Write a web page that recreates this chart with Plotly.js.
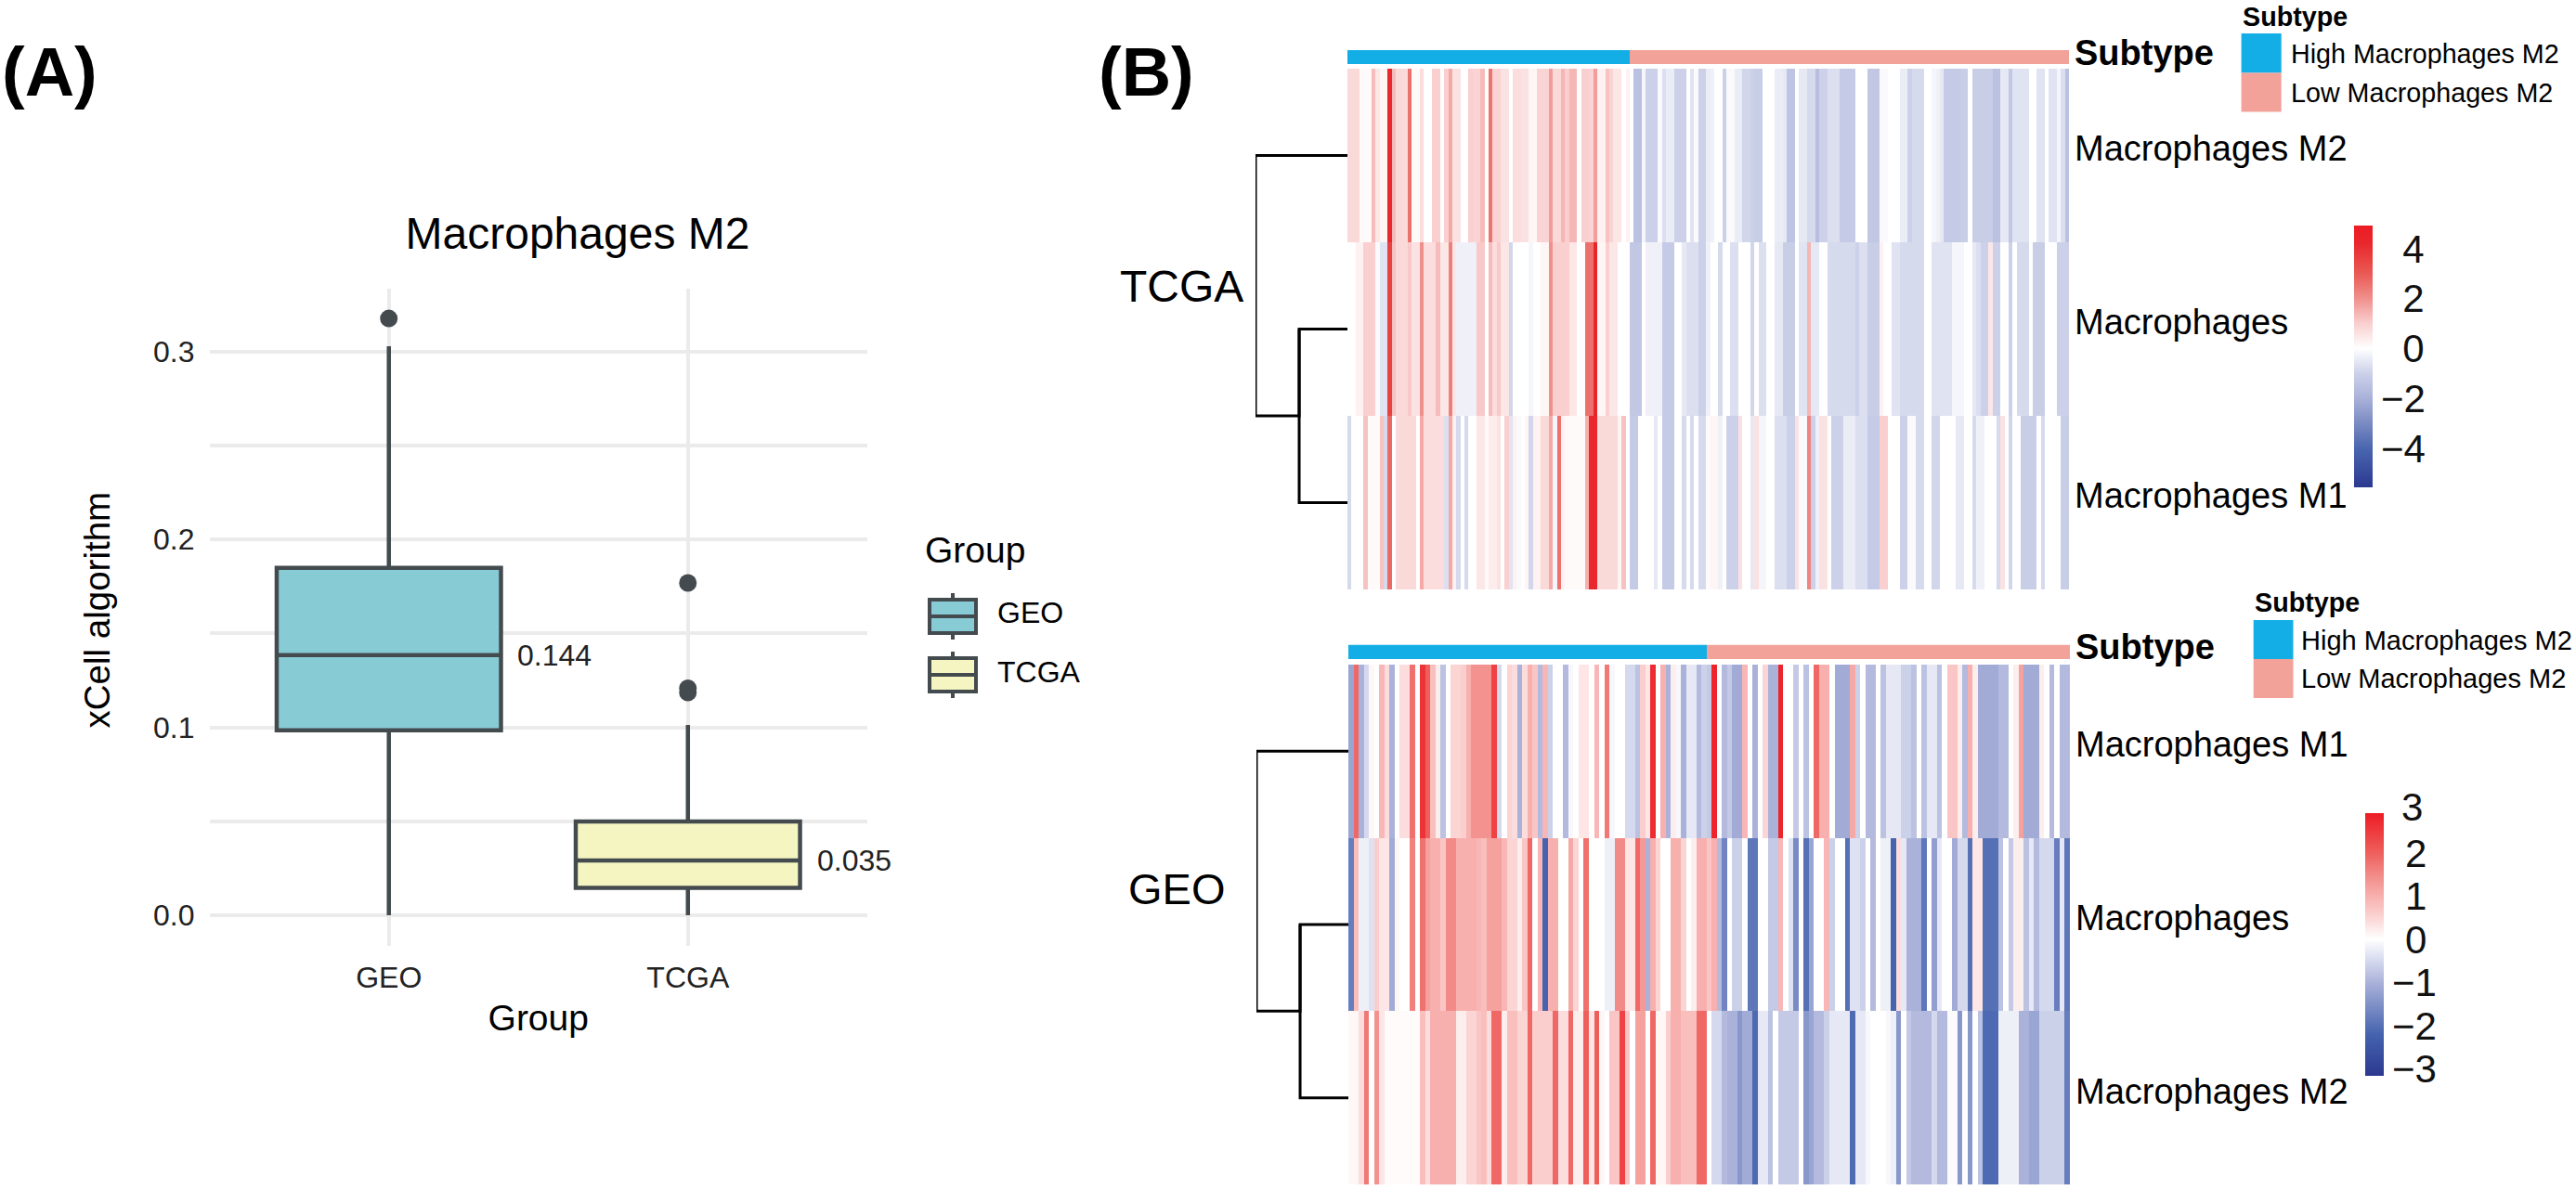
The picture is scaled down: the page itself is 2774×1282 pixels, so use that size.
<!DOCTYPE html>
<html><head><meta charset="utf-8">
<script src="https://cdn.plot.ly/plotly-3.0.1.min.js"></script>
<style>html,body{margin:0;padding:0;background:#fff}#g{width:2774px;height:1282px}</style>
</head><body><div id="g"></div>
<script>
// ---------- Panel A values ----------
const groups = ['GEO','TCGA'];
const boxQ1 = [0.0984,0.0146];
const boxMedian = [0.1384,0.0291];
const boxQ3 = [0.1848,0.0499];
const whiskerLow = [0,0];
const whiskerHigh = [0.3027,0.1012];
const boxFill = ['#87ccd5','#f5f5c1'];
const outlierGroups = ['GEO','TCGA','TCGA','TCGA'];
const outlierValues = [0.3175,0.1768,0.1208,0.1185];
const meanLabels = ['0.144','0.035'];

// ---------- Panel B values ----------
const tcgaRows = ['Macrophages M2','Macrophages','Macrophages M1'];
const geoRows = ['Macrophages M1','Macrophages','Macrophages M2'];
const subtypeNames = ['High Macrophages M2','Low Macrophages M2'];
const tcgaHighCount = 70;
const geoHighCount = 70;

const tcgaM2 = [
.8,.8,.8,.1,.1,.1,1.3,.5,.2,.2,
4.2,1.3,.8,.8,.8,2.6,.1,.1,.7,0,
0,1,1,0,1,1.6,.6,.6,0,0,
1,.9,.9,1.3,0,2.5,.9,.9,.6,.6,
0,.7,.7,.6,.6,.2,.2,.9,.9,.9,
1.8,.8,.8,1.4,1,1.4,1.4,0,1,1,
.9,1.8,.3,.3,1.2,.9,.5,.5,0,.3,
0,-1.5,-1.5,-.2,-1,-1,-1,-.1,-.7,-.4,
-.4,-1,-1,-1,0,-.6,-.1,-1,-1,-.4,
-.3,0,0,-1,-.1,-.1,-.4,-.4,-.9,-.9,
-1,-1.1,-1.1,0,0,0,-.4,-.4,-.5,-1.4,
-1.4,0,-.5,-.5,-.8,-.8,-1.6,-1,-1,-.7,
-.7,-.7,-1.2,-1.2,-1.2,-1.2,0,0,0,-1.3,
-1.3,-1.3,-.1,-.1,0,0,0,-.4,-.4,-1,
-.8,-.8,-.8,0,0,-.2,-.3,-.5,-1.2,-1.2,
-1.2,-1.2,-1.1,-1.1,0,-1.1,-1.1,-1.1,-1.1,-1.1,
-1.5,-1.5,-.5,-.5,-1.3,-.6,-.6,-.6,-.6,0,
0,-.6,-.6,0,-.6,-.6,-.2,-.7,-1.5];
const tcgaMac = [
0,0,.3,.3,1,1,1,-.1,-.6,-.6,
3.6,1.2,.8,.8,.8,1.1,.6,.6,2,.7,
.7,.7,1.3,.5,.5,2.3,.5,-.3,-.3,-.3,
-.3,-.3,1.1,1.1,0,1.3,.7,1.1,.5,.5,
-.9,0,0,0,0,-.2,0,0,.2,.2,
2,1,1,1,1,.5,.5,0,0,2.6,
2.6,4.4,.2,.2,1,.5,.5,0,0,0,
-1.3,-1.3,-1.3,0,-.3,-.3,-.3,-.3,-1.2,-1.2,
-1.2,0,0,-.5,-.7,-.7,-.7,-1,-1,-.3,
0,0,-.8,0,0,-.7,-.7,0,0,0,
-.9,0,-.7,-.7,0,0,-.5,-.5,-1.1,-1.1,
-1.1,0,-.6,-.6,1.4,-.5,-.5,0,0,-.8,
-.8,-.8,-.8,-.8,-.8,-.8,-1,-.7,-.7,-1.1,
-1.1,-1.1,.3,0,0,-.6,-.6,-.8,-.8,-.8,
-.8,-.8,-.8,0,0,-.6,-.6,-.6,-.6,-.6,
-.2,-.2,-.2,0,0,-.5,-.7,-1,-1,.5,
-1,-1,0,0,-1,0,-.8,-.8,-.8,0,
-1.1,-1.1,-1.1,0,0,0,-1,-1,-1];
const tcgaM1 = [
-.8,0,0,0,1.2,.1,.1,.1,1.2,-.8,
2.7,0,.8,.8,.8,.8,.8,0,1.6,.7,
.7,.7,.7,.7,-.7,1.6,.3,-.8,0,-.8,
0,0,.5,.5,.1,.4,.4,.6,0,1,
-.6,.3,-.1,0,.2,-.9,.3,.3,.8,.8,
1.6,-.2,2.6,.3,.1,.1,.1,.1,.1,1.5,
4.2,4.2,.8,.8,.8,.8,.8,.2,1.2,0,
-1.2,-1.2,0,0,0,0,-.5,0,-1.2,-1.2,
-1.2,0,0,-.8,0,-.8,0,-.8,-.8,.1,
.2,.2,-.3,0,-1,-1,-1,.6,0,0,
-.5,.6,-.2,-.2,0,0,-.7,-.7,-.7,-1,
-1,.6,-.1,-.1,2.2,-1,-.3,.6,.6,0,
-1,-1,-1,-.4,-.4,-.4,-.7,-.7,-.7,-1.2,
-1.2,-1.2,1,1,0,0,0,-1,-1,-.1,
-.1,-.8,-.8,0,0,-.9,-.9,0,0,0,
0,-.5,-.5,0,0,-.8,-.3,-.3,0,0,
0,-.8,.6,0,-.9,0,0,-1.1,-1.1,-1.1,
-1.1,0,-.8,0,0,0,0,-1.1,-1.1];

const geoM1 = [
-1.2,1.9,-1,-.5,.1,0,.9,.4,-1,0,
.4,.4,1.8,0,2.6,2,.8,.2,-.8,0,
.5,.5,.6,1,1.4,1.4,1.4,1.4,2.4,-.5,
0,.5,.4,-1,.4,1,.7,-.9,.9,-.6,
0,0,-.9,-.1,0,.3,.3,0,.9,0,
1.7,-.1,0,0,-.5,-.5,-.8,.6,.3,2.7,
0,1,-1,.2,-.1,-1,-.3,-.3,-.9,-.6,
-.7,2.8,0,-.9,-.7,-1.1,-1.1,.9,0,-1,
0,.5,-1,-1,2.8,0,0,-.7,0,-.8,
0,1.9,1,1,0,-1.1,-1.1,-1.1,1.1,-.6,
0,-.9,-.9,0,-.8,-.3,-.3,-.3,-.6,-.6,
-.8,0,-.8,-.3,-.3,-.8,0,.7,.7,.2,
-.9,1,.2,-1.1,-1.1,-1.1,-1.1,-.9,-.9,0,
.2,1.2,-1.1,-1.1,-1.1,.2,0,-.9,0,-.9,
-.9];
const geoMac = [
-1.8,.8,-.2,-.2,-.4,.6,.3,.3,-1.1,.1,
0,0,1.6,0,1.8,1.2,1,1,.7,1.5,
1.5,1,1,1,1,.9,.8,1.2,1.2,1.2,
.9,.5,.5,.2,.7,1.9,0,.9,-2.2,1,
1,0,0,1.1,.5,0,1.8,0,0,0,
-.2,-.2,1.5,1.5,.3,.3,1.9,1.3,-1,1,
.5,0,0,1,1,.5,0,.2,1,1,
.7,1,-.9,-1.7,0,-.6,-.6,0,-1.9,-1.9,
0,0,-.7,-.7,.9,0,-.4,-1.6,0,-2,
-1.2,0,0,.9,-.6,0,0,-2,-.4,-.4,
-.6,0,-.9,0,-.2,-.2,-2.2,.4,-.3,-1,
-1,-1,-1.9,0,-1.3,-.3,0,0,-1.1,-.5,
-.5,-2,.3,.3,-2,-2,-2,-.8,0,-.7,
.2,.2,-.8,-.3,-.9,-.5,-.5,-.5,-1.8,-.3,
-1.9];
const geoM2 = [
.1,.1,.4,1.7,0,1.4,.3,.05,.05,.05,
.05,.05,.05,.05,.8,.4,1,1,1,1,
1,.2,.2,.5,.5,.7,.8,.4,1.9,1.9,
.2,.8,.8,.5,.5,1.9,.6,.6,.6,.6,
1.9,.4,.4,1.9,.2,.2,2,.3,2,.1,
0,.7,.7,2.4,.7,0,1.2,1.2,0,1.9,
.1,.1,.6,1,1,.8,.8,.8,1.9,1.9,
0,-.5,-.5,-.9,-1,-1,-1.4,-1.1,-1.1,-2.1,
-.3,-.3,-.8,0,-.7,-.7,-.7,-.7,0,-1.4,
-1.2,-.9,-.9,-.6,-.3,-.3,-.3,-.3,-2.1,-.3,
-.3,-.1,0,0,0,-.1,-.2,-1.4,0,-.7,
-.9,-.9,-.9,-.9,-.5,-.9,-.9,-.05,-.05,-1.4,
0,-1.4,0,-.8,-2.1,-2.1,-2.1,-.2,-.2,-.2,
-.2,-1,-1,-1.2,-1.2,-.6,-.6,-.6,-.6,-.6,
-1.8];

// dendrogram merge heights (root = 1, leaf = 0)
const tcgaMergeHeights = [1,0.525];
const geoMergeHeights = [1,0.525];

const tcgaTickVals = [-4,-2,0,2,4];
const tcgaTickText = ['\u22124','\u22122','\u20070','\u20072','\u20074'];
const geoTickVals = [-3,-2,-1,0,1,2];
const geoTickText = ['\u22123','\u22122','\u22121','\u20040','\u20041','\u20042'];

// colour stops: value, colour
const tcgaStops = [[-5.57,'#2b3990'],[-4,'#4a66af'],[-3,'#7a8bc2'],[-2,'#a9b1d9'],[-1,'#ccd1e9'],[0,'#ffffff'],[1,'#f9cfcf'],[2,'#f0908c'],[3,'#ea5a55'],[4.2,'#e8282c'],[4.93,'#ed1c24']];
const geoStops = [[-3.16,'#2b3990'],[-2.2,'#4563ae'],[-1,'#aab2da'],[-.5,'#d5d9ee'],[0,'#ffffff'],[.5,'#fbd5d4'],[1,'#f7b0ae'],[1.5,'#f28a87'],[2,'#ee5f5c'],[2.92,'#ed1c24']];
const scaleOf = s => { const a=s[0][0], b=s[s.length-1][0]; return s.map(p=>[(p[0]-a)/(b-a),p[1]]); };

// ---------- page geometry (reference pixels) ----------
const W=2774,H=1282, FONT='Liberation Sans, Arial, sans-serif';
const fx=v=>v/W, fy=v=>1-v/H;
const GRID='#ebebeb', DARK='#444b4f', COLBLUE='#14aee6', COLPINK='#f3a299';

function dendro(h){ return {
  x:[0,h[0],h[0],h[1],h[1],0,null,h[1],h[1],0],
  y:[0,0,1.5,1.5,1,1,null,1,2,2]}; }

const sub=(n,hi)=>Array.from({length:n},(_,i)=>i<hi?0:1);

const traces=[];
groups.forEach((g,i)=>traces.push({type:'box',xaxis:'x',yaxis:'y',x:[g],q1:[boxQ1[i]],median:[boxMedian[i]],q3:[boxQ3[i]],
  lowerfence:[whiskerLow[i]],upperfence:[whiskerHigh[i]],width:0.75,whiskerwidth:0,boxpoints:false,fillcolor:boxFill[i],
  line:{color:DARK,width:4.5},showlegend:false,hoverinfo:'skip'}));
traces.push({type:'scatter',mode:'markers',xaxis:'x',yaxis:'y',x:outlierGroups,y:outlierValues,marker:{color:DARK,size:19},showlegend:false,hoverinfo:'skip'});

traces.push({type:'heatmap',xaxis:'x2',yaxis:'y2',z:[tcgaM2,tcgaMac,tcgaM1],zmin:-5.57,zmax:4.93,colorscale:scaleOf(tcgaStops),
  colorbar:{x:fx(2535),xanchor:'left',y:fy(243),yanchor:'top',lenmode:'pixels',len:282,thicknessmode:'pixels',thickness:19.5,xpad:0,ypad:0,
    outlinewidth:0,ticks:'',ticklen:0,tickmode:'array',tickvals:tcgaTickVals,ticktext:tcgaTickText,tickfont:{family:FONT,size:42,color:'#111'}},hoverinfo:'skip'});
traces.push({type:'heatmap',xaxis:'x2',yaxis:'y3',z:[sub(tcgaM2.length,tcgaHighCount)],zmin:0,zmax:1,colorscale:[[0,COLBLUE],[1,COLPINK]],showscale:false,hoverinfo:'skip'});
traces.push(Object.assign({type:'scatter',mode:'lines',xaxis:'x3',yaxis:'y2',line:{color:'#000',width:3},showlegend:false,hoverinfo:'skip'},dendro(tcgaMergeHeights)));

traces.push({type:'heatmap',xaxis:'x4',yaxis:'y4',z:[geoM1,geoMac,geoM2],zmin:-3.16,zmax:2.92,colorscale:scaleOf(geoStops),
  colorbar:{x:fx(2547),xanchor:'left',y:fy(876),yanchor:'top',lenmode:'pixels',len:283,thicknessmode:'pixels',thickness:19.5,xpad:0,ypad:0,
    outlinewidth:0,ticks:'',ticklen:0,tickmode:'array',tickvals:geoTickVals,ticktext:geoTickText,tickfont:{family:FONT,size:42,color:'#111'}},hoverinfo:'skip'});
traces.push({type:'heatmap',xaxis:'x4',yaxis:'y5',z:[sub(geoM1.length,geoHighCount)],zmin:0,zmax:1,colorscale:[[0,COLBLUE],[1,COLPINK]],showscale:false,hoverinfo:'skip'});
traces.push(Object.assign({type:'scatter',mode:'lines',xaxis:'x5',yaxis:'y4',line:{color:'#000',width:3},showlegend:false,hoverinfo:'skip'},dendro(geoMergeHeights)));

const hidden={visible:false,fixedrange:true};
const rowAxis=(d,anchor,labels)=>({domain:d,anchor:anchor,side:'right',range:[2.5,-0.5],tickmode:'array',
  tickvals:[-0.04,0.96,1.96],ticktext:labels,showgrid:false,zeroline:false,ticks:'',ticklen:0,ticklabelstandoff:5,showline:false,
  tickfont:{family:FONT,size:38,color:'#000'}});
const annoAxis=(d,anchor)=>({domain:d,anchor:anchor,side:'right',range:[-0.5,0.5],tickmode:'array',tickvals:[0.35],ticktext:['Subtype'],
  showgrid:false,zeroline:false,ticks:'',ticklabelstandoff:5,tickfont:{family:FONT,size:38,color:'#000',weight:'bold'}});
const dom=(a,b)=>[a/W,b/W], domY=(a,b)=>[1-b/H,1-a/H];

const ann=(t,x,y,size,o)=>Object.assign({text:t,x:fx(x),y:fy(y),xref:'paper',yref:'paper',xanchor:'left',yanchor:'middle',showarrow:false,
  font:{family:FONT,size:size,color:'#000'},borderpad:0},o||{});
const annotations=[
  ann('<b>(A)</b>',1,77,74), ann('<b>(B)</b>',1182,77,74),
  ann('Group',995,593,39), ann('GEO',1073,660,32), ann('TCGA',1073,724,32),
  ann('TCGA',1205,308,48), ann('GEO',1214,957,47),
  ann('<b>Subtype</b>',2414,18,28.7), ann(subtypeNames[0],2465.5,58.5,28.7), ann(subtypeNames[1],2465.5,100,28.7),
  ann('<b>Subtype</b>',2427,648.5,28.7), ann(subtypeNames[0],2477,690,29), ann(subtypeNames[1],2477,731,29),
  ann('3',2585,869,42,{font:{family:FONT,size:42,color:'#111'}}),
  ann('xCell algorithm',104,657.5,38.5,{textangle:-90,xanchor:'center'}),
  {text:meanLabels[0],x:groups[0],y:boxMedian[0],xref:'x',yref:'y',xanchor:'left',yanchor:'middle',xshift:136.5,showarrow:false,font:{family:FONT,size:32,color:'#222'}},
  {text:meanLabels[1],x:groups[1],y:boxMedian[1],xref:'x',yref:'y',xanchor:'left',yanchor:'middle',xshift:137.5,showarrow:false,font:{family:FONT,size:32,color:'#222'}}
];

const rect=(x0,y0,x1,y1,fill,lw)=>({type:'rect',xref:'paper',yref:'paper',x0:fx(x0),x1:fx(x1),y0:fy(y0),y1:fy(y1),fillcolor:fill,line:lw?{color:DARK,width:lw}:{width:0}});
const seg=(x0,y0,x1,y1)=>({type:'line',xref:'paper',yref:'paper',x0:fx(x0),x1:fx(x1),y0:fy(y0),y1:fy(y1),line:{color:DARK,width:4}});
const key=(top,fill)=>[seg(1026,top-7,1026,top),seg(1026,top+36,1026,top+43),rect(1001,top,1051,top+36,fill,4),seg(1001,top+18,1051,top+18)];
const shapes=[
  ...key(646,boxFill[0]),...key(709,boxFill[1]),
  rect(2413.6,36,2456.7,78.4,COLBLUE),rect(2413.6,78.4,2456.7,120.6,COLPINK),
  rect(2426.7,668,2469.5,710,COLBLUE),rect(2426.7,710,2469.5,752,COLPINK)
];

const layout={
  width:W,height:H,margin:{l:0,r:0,t:0,b:0,pad:0,autoexpand:false},paper_bgcolor:'#fff',plot_bgcolor:'#fff',showlegend:false,
  font:{family:FONT,color:'#000'},
  title:{text:'Macrophages M2',x:622/W,xref:'paper',xanchor:'center',y:1-251/H,yref:'paper',yanchor:'middle',font:{family:FONT,size:48,color:'#000'}},
  xaxis:{domain:dom(225.5,934),anchor:'y',type:'category',categoryorder:'array',categoryarray:groups,range:[-0.6,1.6],showgrid:true,gridcolor:GRID,gridwidth:4,
    zeroline:false,showline:false,ticks:'',ticklabelstandoff:12,tickfont:{family:FONT,size:32,color:'#222'},
    title:{text:'Group',standoff:12,font:{family:FONT,size:39,color:'#000'}}},
  yaxis:{domain:domY(310.7,1019),anchor:'x',range:[-0.0163,0.3335],tickmode:'array',tickvals:[0,0.1,0.2,0.3],ticktext:['0.0','0.1','0.2','0.3'],
    showgrid:true,gridcolor:GRID,gridwidth:4,minor:{tickmode:'array',tickvals:[0.05,0.15,0.25],showgrid:true,gridcolor:GRID,gridwidth:4,ticks:''},
    zeroline:false,showline:false,ticks:'',ticklabelstandoff:15,tickfont:{family:FONT,size:32,color:'#222'}},
  xaxis2:Object.assign({domain:dom(1451,2228),anchor:'y2',range:[-0.5,tcgaM2.length-0.5]},hidden),
  yaxis2:rowAxis(domY(74,635),'x2',tcgaRows),
  yaxis3:annoAxis(domY(54,69),'x2'),
  xaxis3:Object.assign({domain:dom(1352,1451),anchor:'y2',range:[1,0]},hidden),
  xaxis4:Object.assign({domain:dom(1452,2229),anchor:'y4',range:[-0.5,geoM1.length-0.5]},hidden),
  yaxis4:rowAxis(domY(716,1276),'x4',geoRows),
  yaxis5:annoAxis(domY(694.5,710),'x4'),
  xaxis5:Object.assign({domain:dom(1353,1452),anchor:'y4',range:[1,0]},hidden),
  annotations:annotations,shapes:shapes
};
Plotly.newPlot('g',traces,layout,{displayModeBar:false,responsive:false});
</script></body></html>
